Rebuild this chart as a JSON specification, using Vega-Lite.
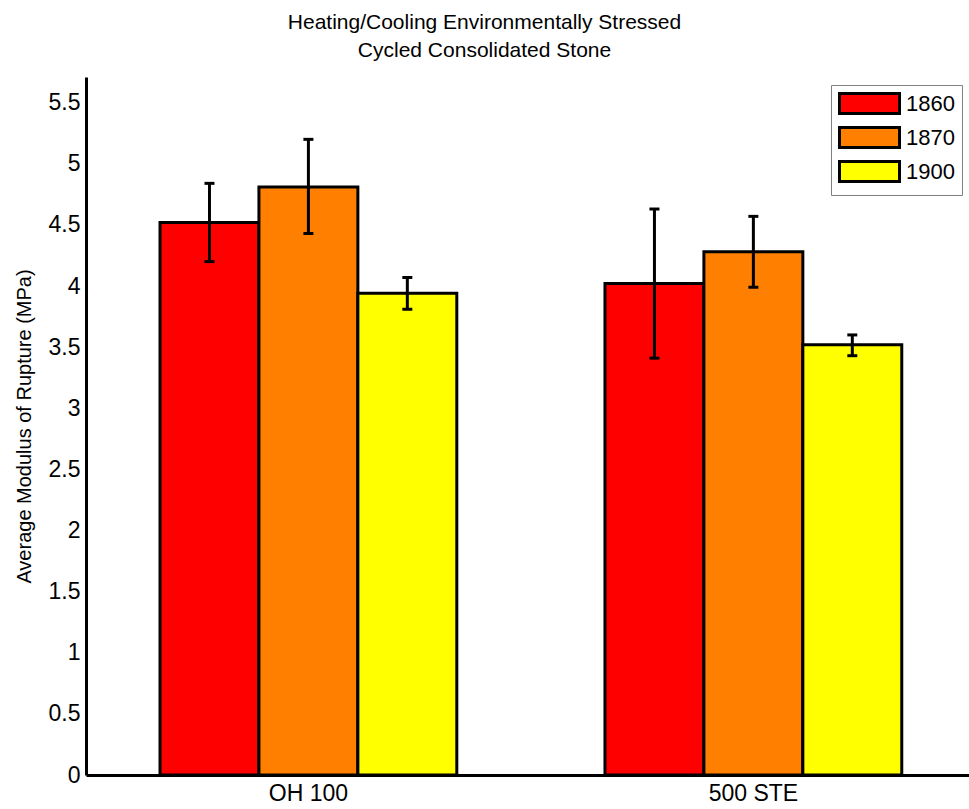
{
  "$schema": "https://vega.github.io/schema/vega-lite/v6.json",
  "width": 883,
  "height": 698,
  "autosize": {"type": "none"},
  "padding": {"left": 86, "top": 77, "right": 0, "bottom": 34},
  "background": "white",
  "config": {"view": {"stroke": null}, "font": "Liberation Sans"},
  "title": {
    "text": ["Heating/Cooling Environmentally Stressed", "Cycled Consolidated Stone"],
    "font": "Liberation Sans",
    "fontSize": 21,
    "fontWeight": "normal",
    "lineHeight": 28,
    "anchor": "middle",
    "dx": -43,
    "offset": 16,
    "color": "black"
  },
  "data": {
    "values": [
      {"Sample": "OH 100", "Year": "1860", "Mean": 4.52, "Low": 4.20, "High": 4.84},
      {"Sample": "OH 100", "Year": "1870", "Mean": 4.81, "Low": 4.43, "High": 5.20},
      {"Sample": "OH 100", "Year": "1900", "Mean": 3.94, "Low": 3.81, "High": 4.07},
      {"Sample": "500 STE", "Year": "1860", "Mean": 4.02, "Low": 3.41, "High": 4.63},
      {"Sample": "500 STE", "Year": "1870", "Mean": 4.28, "Low": 3.99, "High": 4.57},
      {"Sample": "500 STE", "Year": "1900", "Mean": 3.52, "Low": 3.43, "High": 3.60}
    ]
  },
  "encoding": {
    "x": {
      "field": "Sample",
      "type": "nominal",
      "sort": ["OH 100", "500 STE"],
      "scale": {"paddingInner": 0.333, "paddingOuter": 0.1587, "align": 0.524},
      "axis": {
        "title": null,
        "labelAngle": 0,
        "ticks": false,
        "domainColor": "black",
        "domainWidth": 3,
        "labelFontSize": 23,
        "labelColor": "black",
        "labelPadding": 7,
        "labelFont": "Liberation Sans"
      }
    },
    "xOffset": {
      "field": "Year",
      "type": "nominal",
      "scale": {"paddingInner": 0, "paddingOuter": 0}
    }
  },
  "layer": [
    {
      "mark": {"type": "bar", "stroke": "black", "strokeWidth": 3},
      "encoding": {
        "y": {
          "field": "Mean",
          "type": "quantitative",
          "scale": {"domain": [0, 5.71], "nice": false, "zero": true},
          "axis": {
            "title": "Average Modulus of Rupture (MPa)",
            "titleFontSize": 20,
            "titleFontWeight": "normal",
            "titleColor": "black",
            "titlePadding": 14,
            "values": [0, 0.5, 1, 1.5, 2, 2.5, 3, 3.5, 4, 4.5, 5, 5.5],
            "format": "~g",
            "grid": false,
            "ticks": false,
            "domainColor": "black",
            "domainWidth": 3,
            "labelFontSize": 23,
            "labelColor": "black",
            "labelPadding": 6
          }
        },
        "color": {
          "field": "Year",
          "type": "nominal",
          "scale": {"domain": ["1860", "1870", "1900"], "range": ["#FF0000", "#FF8000", "#FFFF00"]},
          "legend": {
            "title": null,
            "orient": "none",
            "legendX": 745,
            "legendY": 8,
            "symbolType": "M-3,-1H3V1H-3Z",
            "symbolSize": 400,
            "symbolStrokeColor": "black",
            "symbolStrokeWidth": 3,
            "symbolOffset": 20,
            "labelOffset": 25,
            "labelFontSize": 22,
            "labelColor": "black",
            "rowPadding": 1,
            "padding": 7,
            "strokeColor": "#808080",
            "fillColor": "white"
          }
        }
      }
    },
    {
      "mark": {"type": "rule", "strokeWidth": 3, "color": "black"},
      "encoding": {
        "y": {"field": "Low", "type": "quantitative"},
        "y2": {"field": "High"}
      }
    },
    {
      "mark": {"type": "tick", "thickness": 3, "size": 10, "color": "black", "opacity": 1},
      "encoding": {
        "y": {"field": "Low", "type": "quantitative"}
      }
    },
    {
      "mark": {"type": "tick", "thickness": 3, "size": 10, "color": "black", "opacity": 1},
      "encoding": {
        "y": {"field": "High", "type": "quantitative"}
      }
    }
  ]
}
